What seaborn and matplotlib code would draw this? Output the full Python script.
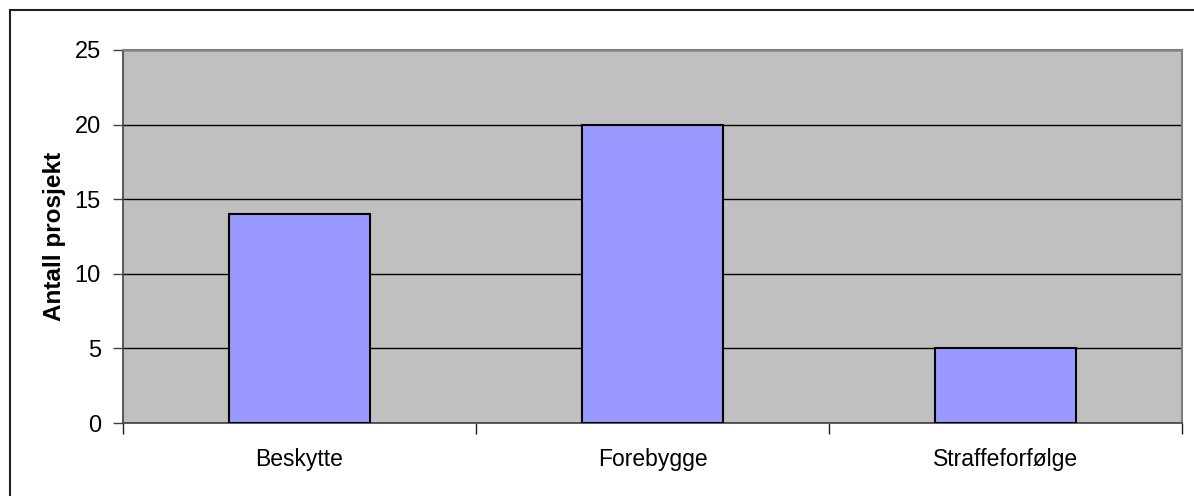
import matplotlib
matplotlib.use("Agg")
import matplotlib.pyplot as plt
import seaborn as sns
import pandas as pd
from matplotlib.patches import Rectangle

categories = ["Beskytte", "Forebygge", "Straffeforfølge"]
antall = [14, 20, 5]
yticks = [0, 5, 10, 15, 20, 25]

sns.set_style("white")
plt.rcParams["font.family"] = ["Liberation Sans", "DejaVu Sans"]
plt.rcParams["text.color"] = "black"
plt.rcParams["axes.labelcolor"] = "black"
plt.rcParams["xtick.labelcolor"] = "black"
plt.rcParams["ytick.labelcolor"] = "black"

df = pd.DataFrame({"kategori": categories, "antall": antall})

fig = plt.figure(figsize=(11.94, 4.96), dpi=100)
ax = fig.add_axes([123 / 1194, 1 - 423 / 496, (1182 - 123) / 1194, (423 - 50) / 496])
ax.set_facecolor("#C0C0C0")

sns.barplot(data=df, x="kategori", y="antall", color="#9999FF", saturation=1,
            edgecolor="black", linewidth=1.5, width=0.4, ax=ax, zorder=3)

ax.set_ylim(0, 25)
ax.set_xlim(-0.5, 2.5)
ax.set_yticks(yticks)
ax.yaxis.grid(True, color="black", linewidth=1, zorder=1)
ax.set_axisbelow(True)
ax.tick_params(axis="y", direction="out", length=7, width=1, color="#404040",
               labelsize=17, pad=9, left=True, labelcolor="black")
ax.set_xticks([0, 1, 2])
ax.set_xticks([-0.5, 0.5, 1.5, 2.5], minor=True)
ax.tick_params(axis="x", which="major", length=0, labelsize=16.5, pad=18, labelcolor="black")
ax.tick_params(axis="x", which="minor", direction="out", length=8, width=1,
               color="#202020", bottom=True)
ax.set_xlabel("")
ax.set_ylabel("Antall prosjekt", fontsize=17.5, fontweight="bold", labelpad=6, color="black")

for side in ["left", "bottom"]:
    ax.spines[side].set_color("#404040")
    ax.spines[side].set_linewidth(1.2)
for side in ["top", "right"]:
    ax.spines[side].set_color("#808080")
    ax.spines[side].set_linewidth(1.5)

# outer chart frame, runs past the right and bottom edge
frame = Rectangle((10 / 1194, -0.1), 1.2, 0.1 + (1 - 10 / 496), transform=fig.transFigure,
                  fill=False, edgecolor="#202020", linewidth=1.5, clip_on=False)
fig.patches.append(frame)

fig.savefig("out.png", dpi=100)
plt.close()
